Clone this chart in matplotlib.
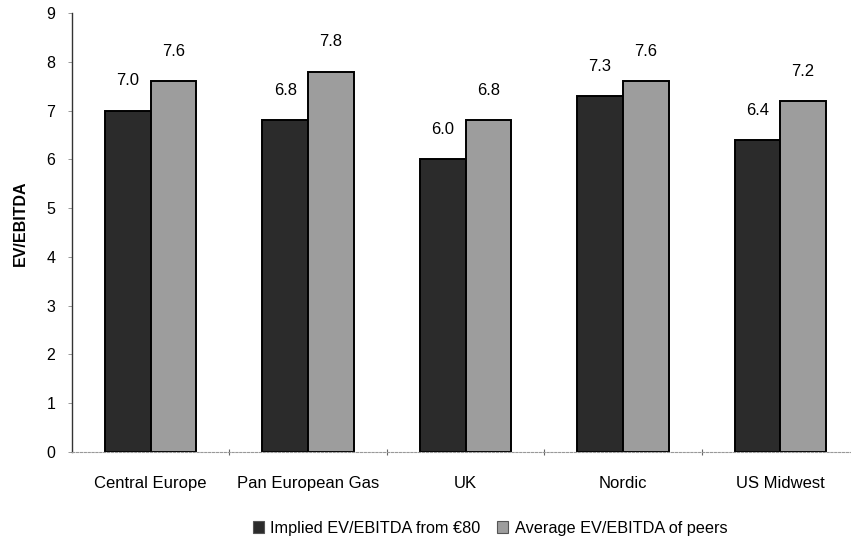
import matplotlib
matplotlib.use("Agg")
import matplotlib.pyplot as plt
import numpy as np
from matplotlib.patches import Patch

plt.rcParams['font.family'] = ['Liberation Sans', 'DejaVu Sans']

categories = ["Central Europe", "Pan European Gas", "UK", "Nordic", "US Midwest"]
implied = [7.0, 6.8, 6.0, 7.3, 6.4]
peers = [7.6, 7.8, 6.8, 7.6, 7.2]
series_names = ["Implied EV/EBITDA from €80", "Average EV/EBITDA of peers"]
y_ticks = list(range(0, 10))

dark = "#2b2b2b"
light = "#9d9d9d"

W, H = 851, 549
fig = plt.figure(figsize=(W / 100, H / 100), dpi=100)
left, right, top, bottom = 72, 859, 13, 452
ax = fig.add_axes([left / W, 1 - bottom / H, (right - left) / W, (bottom - top) / H])

x = np.arange(len(categories)) + 0.5
bw = 0.29
b1 = ax.bar(x - bw / 2, implied, bw, color=dark, edgecolor="black", linewidth=1.4)
b2 = ax.bar(x + bw / 2, peers, bw, color=light, edgecolor="black", linewidth=1.4)

for bars, vals in ((b1, implied), (b2, peers)):
    for rect, v in zip(bars, vals):
        ax.annotate(f"{v:.1f}", (rect.get_x() + rect.get_width() / 2, v),
                    xytext=(0, 16), textcoords="offset points",
                    ha="center", va="bottom", fontsize=12)

ax.set_xlim(0, len(categories))
ax.set_ylim(0, 9)
ax.set_yticks(y_ticks)
ax.tick_params(axis="y", length=3, width=0.6, color="#888888", labelsize=11.5, pad=9)
ax.set_xticks(np.arange(1, len(categories)))
ax.set_xticks(x, minor=True)
ax.set_xticklabels([])
ax.set_xticklabels(categories, minor=True, fontsize=12)
ax.tick_params(axis="x", which="major", length=5, width=0.8, color="#666666", direction="inout")
ax.tick_params(axis="x", which="minor", length=0, pad=17)

for s in ("top", "right"):
    ax.spines[s].set_visible(False)
ax.spines["left"].set_color("#333333")
ax.spines["left"].set_linewidth(1.0)
ax.spines["bottom"].set_color("#999999")
ax.spines["bottom"].set_linestyle((0, (2, 1.5)))
ax.spines["bottom"].set_linewidth(0.8)

ax.set_ylabel("EV/EBITDA", fontsize=11.5, fontweight="bold")
ax.yaxis.set_label_coords(-44 / (right - left), 0.52)

handles = [Patch(facecolor=dark, edgecolor="#555555", linewidth=0.8),
           Patch(facecolor=light, edgecolor="#555555", linewidth=0.8)]
fig.legend(handles, series_names, loc="center", bbox_to_anchor=(490 / W, 1 - 528 / H),
           ncol=2, frameon=False, fontsize=11.7, handlelength=0.7, handleheight=0.7,
           handletextpad=0.4, columnspacing=1.0)

fig.savefig("out.png", dpi=100)
